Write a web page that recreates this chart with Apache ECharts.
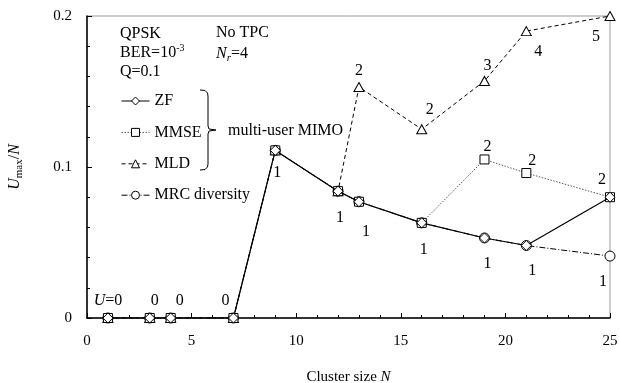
<!DOCTYPE html>
<html>
<head>
<meta charset="utf-8">
<script src="https://cdn.jsdelivr.net/npm/echarts@6/dist/echarts.min.js"></script>
<style>
html,body{margin:0;padding:0;background:#fff;}
#chart{width:620px;height:383px;}
</style>
</head>
<body>
<div id="chart"></div>
<script>
// cluster sizes and U_max/N values
var clusterSize = [1, 3, 4, 7, 9, 12, 13, 16, 19, 21, 25];
var zfValues   = [0, 0, 0, 0, 0.111, 0.084, 0.077, 0.063, 0.053, 0.048, 0.080];
var mmseValues = [0, 0, 0, 0, 0.111, 0.084, 0.077, 0.063, 0.105, 0.096, 0.080];
var mldValues  = [0, 0, 0, 0, 0.111, 0.084, 0.153, 0.125, 0.157, 0.190, 0.200];
var mrcValues  = [0, 0, 0, 0, 0.111, 0.084, 0.077, 0.063, 0.053, 0.048, 0.041];

// number of users U written next to points
var zfText   = ['{i|U}=0', '0', '0', '0', '1', '1', '1', '1', '1', '1', ''];
var mmseText = ['', '', '', '', '', '', '', '', '2', '2', '2'];
var mldText  = ['', '', '', '', '', '', '2', '2', '3', '4', '5'];
var mrcText  = ['', '', '', '', '', '', '', '', '', '', '1'];

var xTicks = [0, 5, 10, 15, 20, 25];
var yTicks = [0, 0.1, 0.2];

var FONT = 'Liberation Serif';

// label offsets (px) from each point
var zfOff = {0:[0,-17],1:[5,-17],2:[9,-17],3:[-8,-17],4:[2,22],5:[2,27],6:[7,30],7:[2,27],8:[3,26],9:[6,25]};
var mmseOff = {8:[3,-13],9:[6,-12],10:[-8,-17]};
var mldOff = {6:[0,-16],7:[8,-19],8:[3,-15],9:[12,21],10:[-14,21]};
var mrcOff = {10:[-7,26]};

function build(values, texts, offs) {
	return values.map(function (v, i) {
		var item = {value: [clusterSize[i], v]};
		if (texts[i]) {
			item.label = {
				show: true,
				formatter: texts[i],
				position: 'inside',
				offset: offs[i] || [0, 0],
				color: '#000',
				fontFamily: FONT,
				fontSize: 16,
				rich: {i: {fontStyle: 'italic', fontFamily: FONT, fontSize: 16, color: '#000'}}
			};
		}
		return item;
	});
}

var chart = echarts.init(document.getElementById('chart'));

var option = {
	animation: false,
	grid: {
		left: 87, right: 10, top: 16, bottom: 65,
		containLabel: false,
		outerBoundsMode: 'none',
		show: true,
		borderColor: '#9a9a9a',
		borderWidth: 1
	},
	legend: {
		orient: 'vertical',
		left: 121,
		top: 93,
		padding: 0,
		itemWidth: 28,
		itemHeight: 10,
		itemGap: 15.4,
		itemStyle: {borderWidth: 1},
		lineStyle: {width: 1},
		textStyle: {fontFamily: FONT, fontSize: 16, color: '#000'},
		data: ['ZF', 'MMSE', 'MLD', 'MRC diversity']
	},
	xAxis: {
		type: 'value',
		min: 0, max: 25, interval: 5,
		name: 'Cluster size {i|N}',
		nameLocation: 'middle',
		nameGap: 52,
		nameTextStyle: {
			fontFamily: FONT, fontSize: 15, color: '#000',
			rich: {i: {fontStyle: 'italic', fontFamily: FONT, fontSize: 15, color: '#000'}}
		},
		axisLine: {lineStyle: {color: '#000', width: 1.5}},
		axisTick: {inside: true, length: 5, lineStyle: {color: '#000'}},
		minorTick: {show: true, splitNumber: 5, length: 3, lineStyle: {color: '#000'}},
		splitLine: {show: false},
		axisLabel: {
			margin: 16, fontFamily: FONT, fontSize: 15, color: '#000',
			formatter: function (v) { return xTicks.indexOf(v) >= 0 ? String(v) : ''; }
		}
	},
	yAxis: {
		type: 'value',
		min: 0, max: 0.2, interval: 0.1,
		name: '{i|U}{s|max}{n|/}{i|N}',
		nameLocation: 'middle',
		nameRotate: 90,
		nameGap: 62,
		nameTextStyle: {
			fontFamily: FONT, fontSize: 16, color: '#000',
			rich: {
				i: {fontStyle: 'italic', fontFamily: FONT, fontSize: 16, lineHeight: 20, color: '#000'},
				n: {fontFamily: FONT, fontSize: 16, lineHeight: 20, color: '#000'},
				s: {fontFamily: FONT, fontSize: 11, lineHeight: 11, verticalAlign: 'bottom', color: '#000'}
			}
		},
		axisLine: {lineStyle: {color: '#000', width: 1.5}},
		axisTick: {inside: true, length: 5, lineStyle: {color: '#000'}},
		minorTick: {show: true, splitNumber: 5, length: 3, lineStyle: {color: '#000'}},
		splitLine: {show: false},
		axisLabel: {
			margin: 15, fontFamily: FONT, fontSize: 15, color: '#000',
			formatter: function (v) {
				for (var k = 0; k < yTicks.length; k++) {
					if (Math.abs(v - yTicks[k]) < 1e-9) return String(yTicks[k]);
				}
				return '';
			}
		}
	},
	graphic: [
		{
			type: 'text', left: 120, top: 24,
			style: {
				text: 'QPSK\nBER=10{sup|-3}\nQ=0.1',
				font: '16px "Liberation Serif"',
				fill: '#000',
				lineHeight: 19,
				rich: {sup: {fontSize: 10, lineHeight: 10, verticalAlign: 'top', fontFamily: FONT}}
			}
		},
		{
			type: 'text', left: 216, top: 22,
			style: {
				text: 'No TPC\n{i|N}{s|r}=4',
				font: '16px "Liberation Serif"',
				fill: '#000',
				lineHeight: 21,
				rich: {
					i: {fontStyle: 'italic', fontFamily: FONT, fontSize: 16, lineHeight: 21},
					s: {fontStyle: 'italic', fontFamily: FONT, fontSize: 11, lineHeight: 11, verticalAlign: 'bottom'}
				}
			}
		},
		{
			type: 'polyline',
			shape: {points: [[200, 90], [205, 90.5], [207.5, 93], [208, 96], [208, 126], [209, 129], [216, 130], [209, 131], [208, 134], [208, 164], [207.5, 167], [205, 169.5], [200, 170]]},
			style: {fill: null, stroke: '#000', lineWidth: 1}
		},
		{
			type: 'text', left: 228, top: 123,
			style: {text: 'multi-user MIMO', font: '16px "Liberation Serif"', fill: '#000'}
		}
	],
	series: [
		{
			name: 'MRC diversity', type: 'line', z: 2,
			symbol: 'circle', symbolSize: 10,
			itemStyle: {color: '#fff', borderColor: '#000', borderWidth: 1},
			lineStyle: {color: '#000', width: 1, type: [6, 2, 1, 2]},
			data: build(mrcValues, mrcText, mrcOff)
		},
		{
			name: 'MLD', type: 'line', z: 3, clip: false,
			symbol: 'triangle', symbolSize: [10, 9],
			itemStyle: {color: '#fff', borderColor: '#000', borderWidth: 1},
			lineStyle: {color: '#000', width: 1, type: [4, 3]},
			data: build(mldValues, mldText, mldOff)
		},
		{
			name: 'MMSE', type: 'line', z: 4,
			symbol: 'rect', symbolSize: 9,
			itemStyle: {color: '#fff', borderColor: '#000', borderWidth: 1},
			lineStyle: {color: '#555', width: 1, type: [1.5, 1.5]},
			data: build(mmseValues, mmseText, mmseOff)
		},
		{
			name: 'ZF', type: 'line', z: 5,
			symbol: 'diamond', symbolSize: [10, 10],
			itemStyle: {color: '#fff', borderColor: '#000', borderWidth: 1},
			lineStyle: {color: '#000', width: 1.2, type: 'solid'},
			data: build(zfValues, zfText, zfOff)
		}
	]
};

chart.setOption(option);
</script>
</body>
</html>
